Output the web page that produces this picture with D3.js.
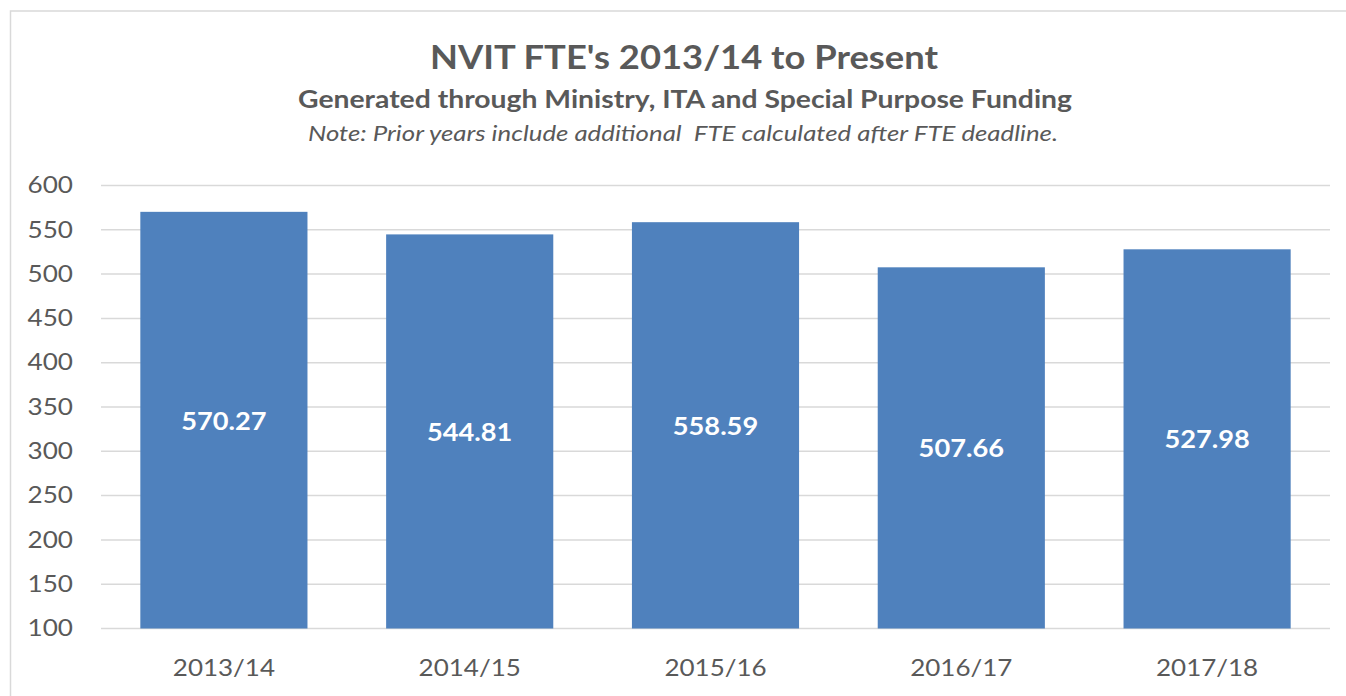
<!DOCTYPE html>
<html lang="en">
<head>
    <meta charset="UTF-8">
    <title>NVIT FTE's 2013/14 to Present</title>
    <script src="https://cdnjs.cloudflare.com/ajax/libs/d3/7.8.2/d3.min.js"></script>
    <style>
        body {
            margin: 0;
            background: #fff;
            font-family: Lato, "Open Sans", sans-serif;
        }
        .tick text {
            fill: #595959;
        }
    </style>
</head>
<body>
    <div id="chart"></div>
    <script>
        // Data
        const years = ["2013/14", "2014/15", "2015/16", "2016/17", "2017/18"];
        const fte = [570.27, 544.81, 558.59, 507.66, 527.98];
        const yTicks = [100, 150, 200, 250, 300, 350, 400, 450, 500, 550, 600];

        const width = 1346;
        const height = 696;
        const plot = { left: 101, right: 1330, top: 185.5, bottom: 628.5 };

        const svg = d3.select("#chart")
            .append("svg")
            .attr("width", width)
            .attr("height", height);

        // the original font is wider than Lato, so widen the text a bit
        function stretch(sel, factor) {
            sel.each(function () {
                const w = this.getComputedTextLength();
                d3.select(this)
                    .attr("textLength", w * factor)
                    .attr("lengthAdjust", "spacingAndGlyphs");
            });
        }

        // chart border (right and bottom edges fall outside the picture)
        svg.append("rect")
            .attr("x", 10.5)
            .attr("y", 11)
            .attr("width", 1400)
            .attr("height", 800)
            .attr("fill", "none")
            .attr("stroke", "#d9d9d9")
            .attr("stroke-width", 1.5);

        const x = d3.scaleBand()
            .domain(years)
            .range([plot.left, plot.right])
            .paddingInner(0.32)
            .paddingOuter(0.16);

        const y = d3.scaleLinear()
            .domain([100, 600])
            .range([plot.bottom, plot.top]);

        // gridlines
        svg.append("g")
            .selectAll("line")
            .data(yTicks)
            .enter()
            .append("line")
            .attr("x1", plot.left)
            .attr("x2", plot.right)
            .attr("y1", d => y(d))
            .attr("y2", d => y(d))
            .attr("stroke", "#d9d9d9")
            .attr("stroke-width", 1.5);

        // y axis labels
        const yAxis = svg.append("g")
            .attr("transform", `translate(${plot.left - 28},0)`)
            .call(d3.axisLeft(y).tickValues(yTicks).tickSize(0).tickPadding(0));
        yAxis.select(".domain").remove();
        yAxis.selectAll("text")
            .attr("font-family", "Lato, sans-serif")
            .attr("font-size", 22.5)
            .call(stretch, 1.16);

        // bars
        svg.append("g")
            .selectAll("rect")
            .data(fte)
            .enter()
            .append("rect")
            .attr("x", (d, i) => x(years[i]))
            .attr("y", d => y(d))
            .attr("width", x.bandwidth())
            .attr("height", d => y(100) - y(d))
            .attr("fill", "#4f81bd");

        // value labels in the middle of each bar
        svg.append("g")
            .selectAll("text")
            .data(fte)
            .enter()
            .append("text")
            .attr("x", (d, i) => x(years[i]) + x.bandwidth() / 2)
            .attr("y", d => (y(d) + y(100)) / 2 + 1)
            .attr("dy", "0.35em")
            .attr("text-anchor", "middle")
            .attr("fill", "#fff")
            .attr("font-weight", "bold")
            .attr("font-size", 24.5)
            .text(d => d.toFixed(2))
            .call(stretch, 1.11);

        // x axis labels
        const xAxis = svg.append("g")
            .attr("transform", `translate(0,${plot.bottom + 31})`)
            .call(d3.axisBottom(x).tickSize(0).tickPadding(0));
        xAxis.select(".domain").remove();
        xAxis.selectAll("text")
            .attr("font-family", "Lato, sans-serif")
            .attr("font-size", 23)
            .call(stretch, 1.13);

        // titles
        const cx = 684;
        svg.append("text")
            .attr("x", cx)
            .attr("y", 69)
            .attr("text-anchor", "middle")
            .attr("fill", "#595959")
            .attr("font-weight", "bold")
            .attr("font-size", 33)
            .attr("textLength", 508)
            .attr("lengthAdjust", "spacingAndGlyphs")
            .text("NVIT FTE's 2013/14 to Present");

        svg.append("text")
            .attr("x", cx + 1)
            .attr("y", 108)
            .attr("text-anchor", "middle")
            .attr("fill", "#595959")
            .attr("font-weight", "bold")
            .attr("font-size", 24)
            .attr("textLength", 774)
            .attr("lengthAdjust", "spacingAndGlyphs")
            .text("Generated through Ministry, ITA and Special Purpose Funding");

        svg.append("text")
            .attr("x", cx - 1)
            .attr("y", 141)
            .attr("text-anchor", "middle")
            .attr("fill", "#595959")
            .attr("font-style", "italic")
            .attr("font-size", 21)
            .attr("textLength", 750)
            .attr("lengthAdjust", "spacingAndGlyphs")
            .style("white-space", "pre")
            .text("Note: Prior years include additional  FTE calculated after FTE deadline.");
    </script>
</body>
</html>
